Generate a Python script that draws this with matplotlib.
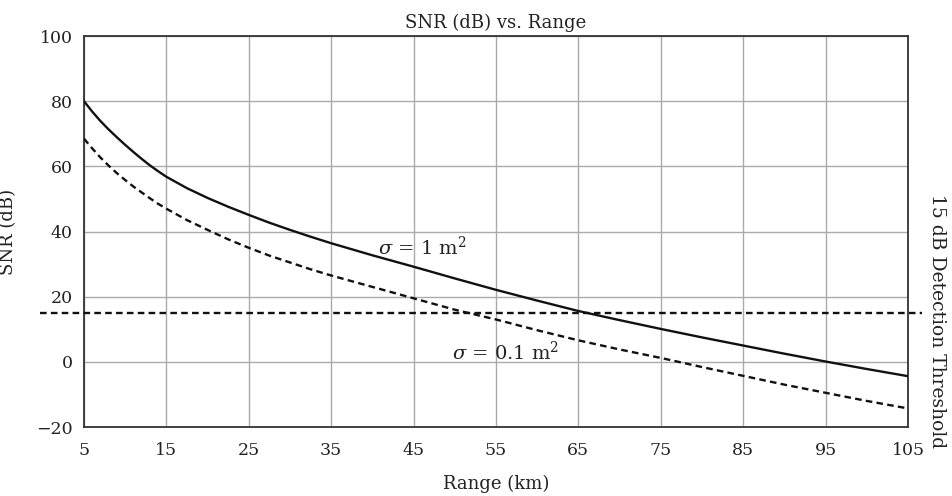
import matplotlib
matplotlib.use("Agg")
import matplotlib.pyplot as plt
import matplotlib.transforms as mtransforms

plt.rcParams['font.family'] = ['DejaVu Serif']
plt.rcParams['mathtext.fontset'] = 'dejavuserif'

# values
range_km = [5, 6, 7, 8, 9, 10, 11, 12, 13, 14, 15, 17.5, 20, 22.5, 25, 27.5, 30,
            32.5, 35, 40, 45, 50, 55, 60, 65, 70, 75, 80, 85, 90, 95, 100, 105]
snr_1m2 = [80, 76.8, 73.9, 71.3, 68.9, 66.6, 64.4, 62.3, 60.3, 58.5, 56.8, 53.3,
           50.3, 47.6, 45.1, 42.7, 40.5, 38.4, 36.4, 32.7, 29.2, 25.6, 22.1,
           18.8, 15.6, 12.8, 10.1, 7.5, 5.0, 2.5, 0.1, -2.2, -4.4]
snr_01m2 = [68.5, 65.5, 62.7, 60.2, 57.9, 55.8, 53.8, 52.0, 50.2, 48.5, 47.0, 43.5,
            40.5, 37.6, 35.0, 32.6, 30.5, 28.4, 26.5, 23.0, 19.5, 16.0, 13.0,
            9.7, 6.6, 3.8, 1.2, -1.6, -4.3, -7.0, -9.5, -12.0, -14.3]
threshold_db = 15
x_ticks = [5, 15, 25, 35, 45, 55, 65, 75, 85, 95, 105]
y_ticks = [-20, 0, 20, 40, 60, 80, 100]

fig = plt.figure(figsize=(9.52, 4.96), dpi=100)
ax = fig.add_axes([0.0882, 0.1391, 0.8656, 0.7883])

dash = (2.8, 1.8)
ax.plot(range_km, snr_1m2, color='#111111', lw=1.7, zorder=3)
ax.plot(range_km, snr_01m2, color='#111111', lw=1.7, dashes=dash, zorder=3)

# threshold line runs a little past both sides of the axes
trans = mtransforms.blended_transform_factory(ax.transAxes, ax.transData)
ax.plot([-0.053, 1.017], [threshold_db, threshold_db], transform=trans,
        color='#111111', lw=1.7, dashes=dash, clip_on=False, zorder=3)
lab_trans = mtransforms.offset_copy(trans, fig=fig, x=0, y=-8, units='dots')
ax.text(1.035, threshold_db, '15 dB Detection Threshold', transform=lab_trans,
        rotation=270, ha='center', va='center', fontsize=13.5, color='#222222')

ax.text(40.7, 35.3, r'$\sigma$ = 1 m$^2$', fontsize=14, color='#222222',
        va='center', ha='left')
ax.text(49.7, 3.1, r'$\sigma$ = 0.1 m$^2$', fontsize=14, color='#222222',
        va='center', ha='left')

ax.set_xlim(5, 105)
ax.set_ylim(-20, 100)
ax.set_xticks(x_ticks)
ax.set_yticks(y_ticks)
ax.tick_params(axis='both', length=0, labelsize=12.5, colors='#222222')
ax.tick_params(axis='x', pad=11)
ax.tick_params(axis='y', pad=8)
ax.grid(True, color='#aaaaaa', lw=1.0)
ax.set_axisbelow(True)
for s in ax.spines.values():
    s.set_color('#333333')
    s.set_linewidth(1.3)

ax.set_xlabel('Range (km)', fontsize=13, color='#222222', labelpad=11)
ax.set_ylabel('SNR (dB)', fontsize=13, color='#222222', labelpad=14)
ax.set_title('SNR (dB) vs. Range', fontsize=13, color='#222222', pad=6)

fig.savefig('out.png', dpi=100)
